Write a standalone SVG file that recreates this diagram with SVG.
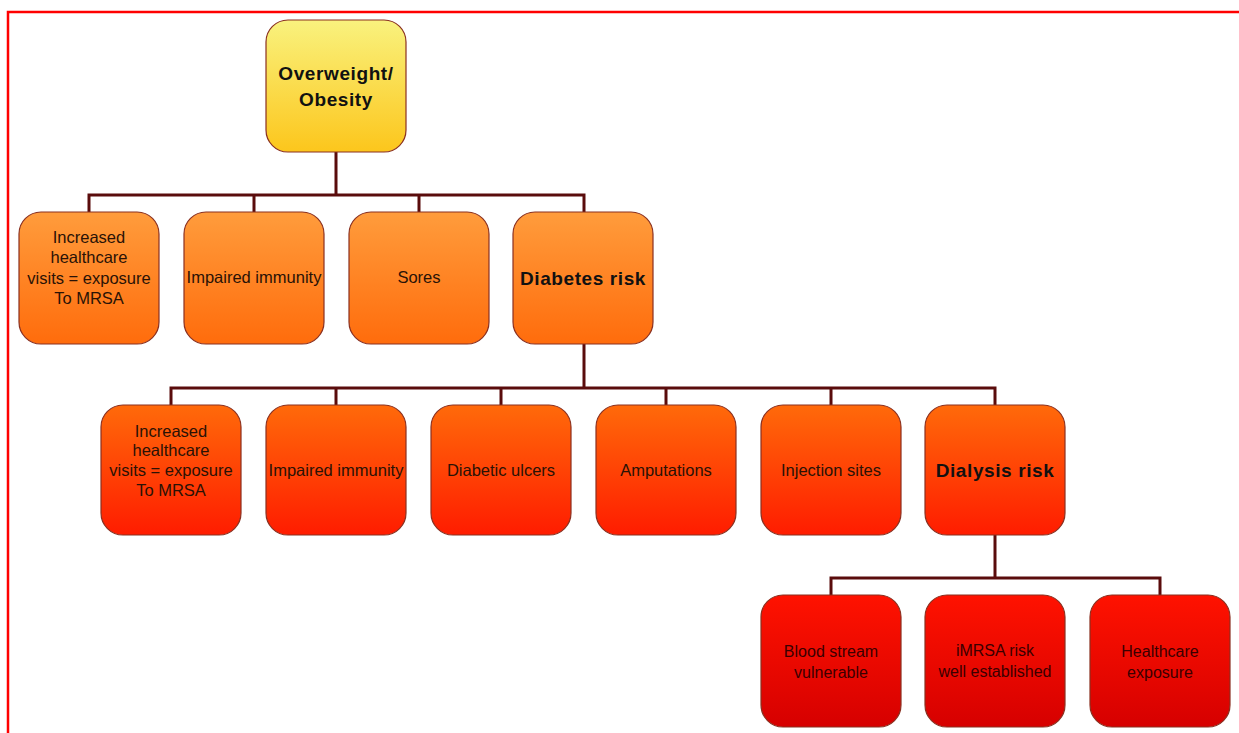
<svg xmlns="http://www.w3.org/2000/svg" width="1239" height="733" viewBox="0 0 1239 733">
<defs>
<linearGradient id="gY" x1="0" y1="0" x2="0" y2="1"><stop offset="0" stop-color="#f9f27e"/><stop offset="1" stop-color="#fcc61c"/></linearGradient>
<linearGradient id="gO" x1="0" y1="0" x2="0" y2="1"><stop offset="0" stop-color="#ff9c3c"/><stop offset="1" stop-color="#ff6c0c"/></linearGradient>
<linearGradient id="gR" x1="0" y1="0" x2="0" y2="1"><stop offset="0" stop-color="#ff6a0a"/><stop offset="1" stop-color="#ff1c00"/></linearGradient>
<linearGradient id="gD" x1="0" y1="0" x2="0" y2="1"><stop offset="0" stop-color="#ff1200"/><stop offset="1" stop-color="#d60000"/></linearGradient>
<style>
.n{stroke:#8a3020;stroke-width:1.2}
.t{font-family:"Liberation Sans",Arial,sans-serif;font-size:16.5px;fill:#2a1206;text-anchor:middle}
.b{font-weight:bold;font-size:19px;letter-spacing:0.6px;fill:#111}
.s{font-size:16px;fill:#3a0000}
.c{fill:none;stroke:#5a0c0c;stroke-width:3}
</style>
</defs>
<rect width="1239" height="733" fill="#fff"/>
<path d="M8 733 V12 H1239" fill="none" stroke="#ff0000" stroke-width="2.5"/>
<g id="connectors">
<path class="c" d="M336 152 V195 M89 212 V195 H584 V212 M254 195 V212 M419 195 V212"/>
<path class="c" d="M584 344 V388 M171 405 V388 H995 V405 M336 388 V405 M501 388 V405 M666 388 V405 M831 388 V405"/>
<path class="c" d="M995 535 V578 M831 595 V578 H1160 V595"/>
</g>
<g id="obesity"><rect class="n" x="266" y="20" width="140" height="132" rx="22" fill="url(#gY)"/>
<text class="t b" x="336" y="80">Overweight/</text><text class="t b" x="336" y="106">Obesity</text></g>
<g id="r1a"><rect class="n" x="19" y="212" width="140" height="132" rx="22" fill="url(#gO)"/>
<text class="t" x="89" y="243">Increased</text><text class="t" x="89" y="263">healthcare</text><text class="t" x="89" y="284">visits = exposure</text><text class="t" x="89" y="304">To MRSA</text></g>
<g id="r1b"><rect class="n" x="184" y="212" width="140" height="132" rx="22" fill="url(#gO)"/>
<text class="t" x="254" y="283">Impaired immunity</text></g>
<g id="r1c"><rect class="n" x="349" y="212" width="140" height="132" rx="22" fill="url(#gO)"/>
<text class="t" x="419" y="283">Sores</text></g>
<g id="diabetes"><rect class="n" x="513" y="212" width="140" height="132" rx="22" fill="url(#gO)"/>
<text class="t b" x="583" y="285">Diabetes risk</text></g>
<g id="r2a"><rect class="n" x="101" y="405" width="140" height="130" rx="22" fill="url(#gR)"/>
<text class="t" x="171" y="437">Increased</text><text class="t" x="171" y="456">healthcare</text><text class="t" x="171" y="476">visits = exposure</text><text class="t" x="171" y="496">To MRSA</text></g>
<g id="r2b"><rect class="n" x="266" y="405" width="140" height="130" rx="22" fill="url(#gR)"/>
<text class="t" x="336" y="476">Impaired immunity</text></g>
<g id="r2c"><rect class="n" x="431" y="405" width="140" height="130" rx="22" fill="url(#gR)"/>
<text class="t" x="501" y="476">Diabetic ulcers</text></g>
<g id="r2d"><rect class="n" x="596" y="405" width="140" height="130" rx="22" fill="url(#gR)"/>
<text class="t" x="666" y="476">Amputations</text></g>
<g id="r2e"><rect class="n" x="761" y="405" width="140" height="130" rx="22" fill="url(#gR)"/>
<text class="t" x="831" y="476">Injection sites</text></g>
<g id="dialysis"><rect class="n" x="925" y="405" width="140" height="130" rx="22" fill="url(#gR)"/>
<text class="t b" x="995" y="477">Dialysis risk</text></g>
<g id="r3a"><rect class="n" x="761" y="595" width="140" height="132" rx="22" fill="url(#gD)"/>
<text class="t s" x="831" y="657">Blood stream</text><text class="t s" x="831" y="678">vulnerable</text></g>
<g id="r3b"><rect class="n" x="925" y="595" width="140" height="132" rx="22" fill="url(#gD)"/>
<text class="t s" x="995" y="656">iMRSA risk</text><text class="t s" x="995" y="677">well established</text></g>
<g id="r3c"><rect class="n" x="1090" y="595" width="140" height="132" rx="22" fill="url(#gD)"/>
<text class="t s" x="1160" y="657">Healthcare</text><text class="t s" x="1160" y="678">exposure</text></g>
</svg>
